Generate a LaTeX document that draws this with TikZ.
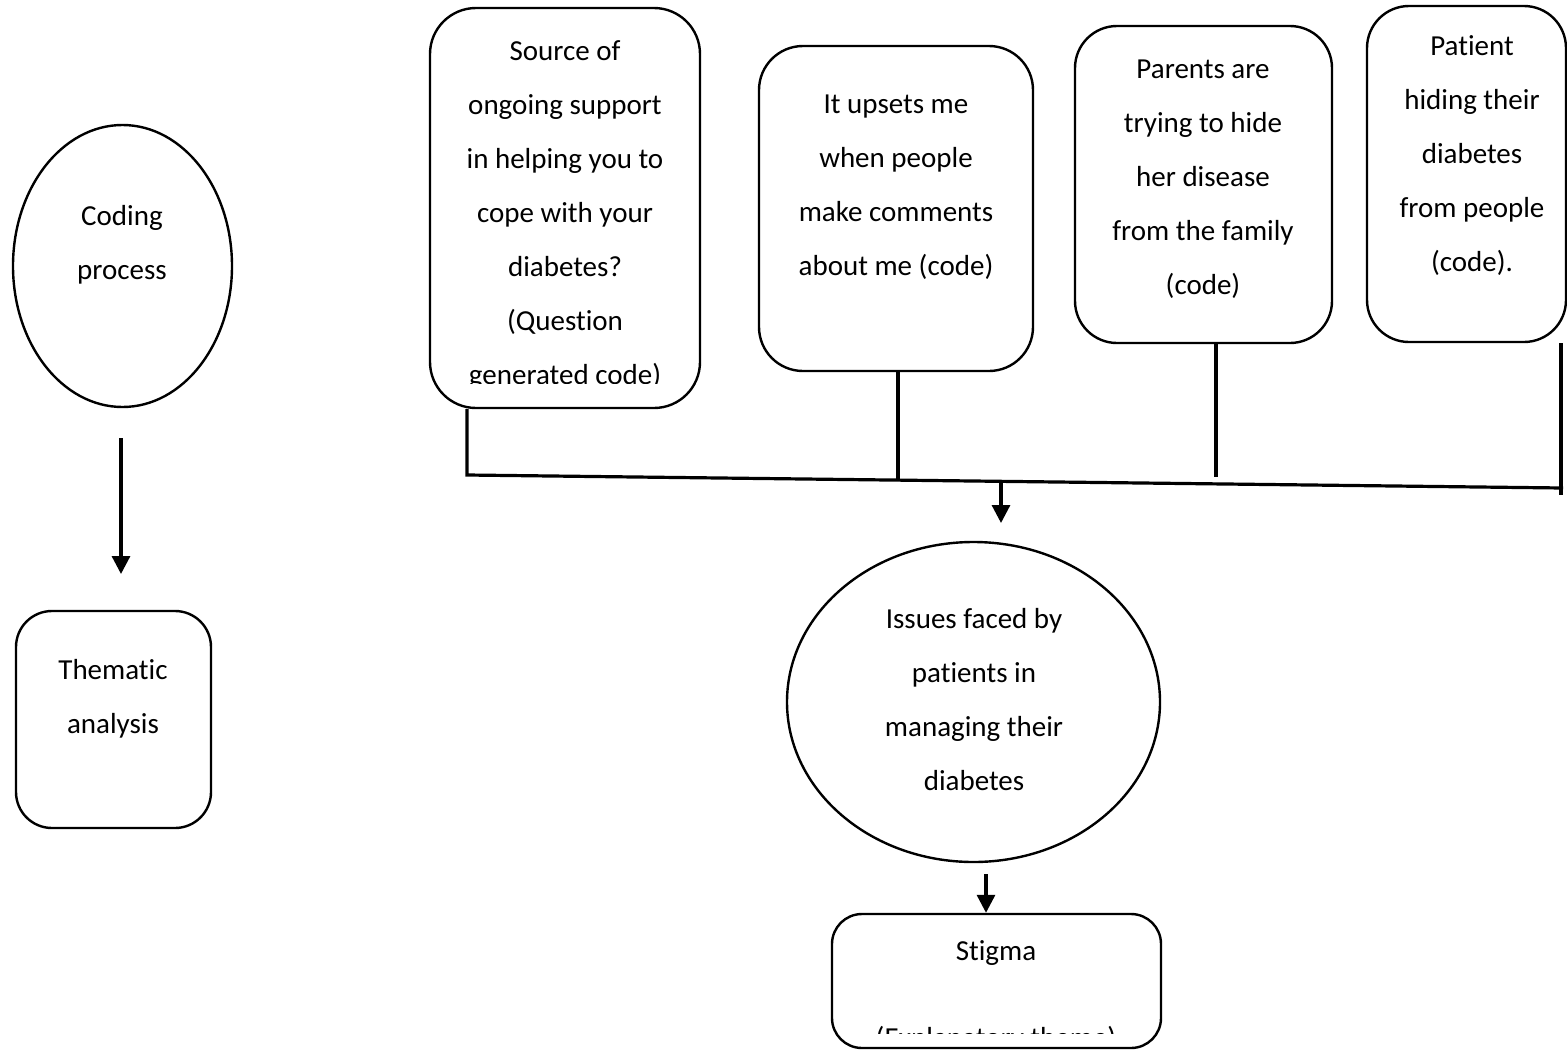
\documentclass[tikz,border=0pt]{standalone}
\usepackage{fontspec}
\setmainfont{Carlito}[Ligatures={NoCommon}]
\usetikzlibrary{shapes.geometric,arrows.meta}
\begin{document}
\begin{tikzpicture}[x=1pt,y=-1pt,
  shp/.style={draw=black,line width=2.4pt},
  ell/.style={shp,ellipse,inner sep=0pt},
  rbox/.style={shp,rectangle,inner sep=0pt},
  txt/.style={align=center,font=\fontsize{29}{54}\selectfont,inner sep=0pt},
  conn/.style={draw=black,line width=3.2pt},
  arr/.style={conn,-{Triangle[length=18pt,width=18pt]}}]
\useasboundingbox (0,0) rectangle (1567,1050);
% left column
\node[ell,minimum width=219pt,minimum height=282pt] (coding) at (122.5,266) {};
\node[txt] (codingt) at (122,245) {Coding\\process};
\node[rbox,rounded corners=36pt,minimum width=195pt,minimum height=217pt] (them) at (113.5,719.5) {};
\node[txt] (themt) at (113,699) {Thematic\\analysis};
\coordinate (a1s) at (121,438);
\coordinate (a1e) at (121,574);
\draw[arr] (a1s) -- (a1e);
% code boxes
\node[rbox,rounded corners=46pt,minimum width=270pt,minimum height=400pt] (b1) at (565,208) {};
\begin{scope}
  \clip (430,8) rectangle (700,383);
  \node[txt] (b1t) at (565,215) {Source of\\ongoing support\\in helping you to\\cope with your\\diabetes?\\(Question\\generated code)};
\end{scope}
\node[rbox,rounded corners=44pt,minimum width=274pt,minimum height=325pt] (b2) at (896,208.5) {};
\node[txt] (b2t) at (896,187) {It upsets me\\when people\\make comments\\about me (code)};
\node[rbox,rounded corners=42pt,minimum width=257pt,minimum height=317pt] (b3) at (1203.5,184.5) {};
\node[txt] (b3t) at (1203,179) {Parents are\\trying to hide\\her disease\\from the family\\(code)};
\node[rbox,rounded corners=42pt,minimum width=199pt,minimum height=336pt] (b4) at (1466.5,174) {};
\node[txt] (b4t) at (1472,156) {Patient\\hiding their\\diabetes\\from people\\(code).};
% joining lines
\coordinate (j1) at (467,475);
\coordinate (j4) at (1563,488);
\coordinate (j2) at (898,478.5);
\coordinate (j3) at (1216,477);
\coordinate (j4e) at (1561,495);
\coordinate (jm) at (1001,481);
\draw[conn] (b1.south -| j1) -- (j1) -- (j4);
\draw[conn] (b2.south -| j2) -- (j2);
\draw[conn] (b3.south -| j3) -- (j3);
\draw[conn] (b4.south -| j4e) -- (j4e);
% theme
\node[ell,minimum width=373pt,minimum height=320pt] (issues) at (973.5,702) {};
\node[txt] (issuest) at (974,699.5) {Issues faced by\\patients in\\managing their\\diabetes};
\draw[arr] (jm) -- (jm |- 0,523);
\node[rbox,rounded corners=30pt,minimum width=329pt,minimum height=134pt] (stig) at (996.5,981) {};
\begin{scope}
  \clip (832,914) rectangle (1161,1033);
  \node[txt,anchor=base] (stigt) at (996,1047) {Stigma\\[33pt](Explanatory theme)};
\end{scope}
\coordinate (a3s) at (986,874);
\draw[arr] (a3s) -- (a3s |- stig.north);
\end{tikzpicture}
\end{document}
